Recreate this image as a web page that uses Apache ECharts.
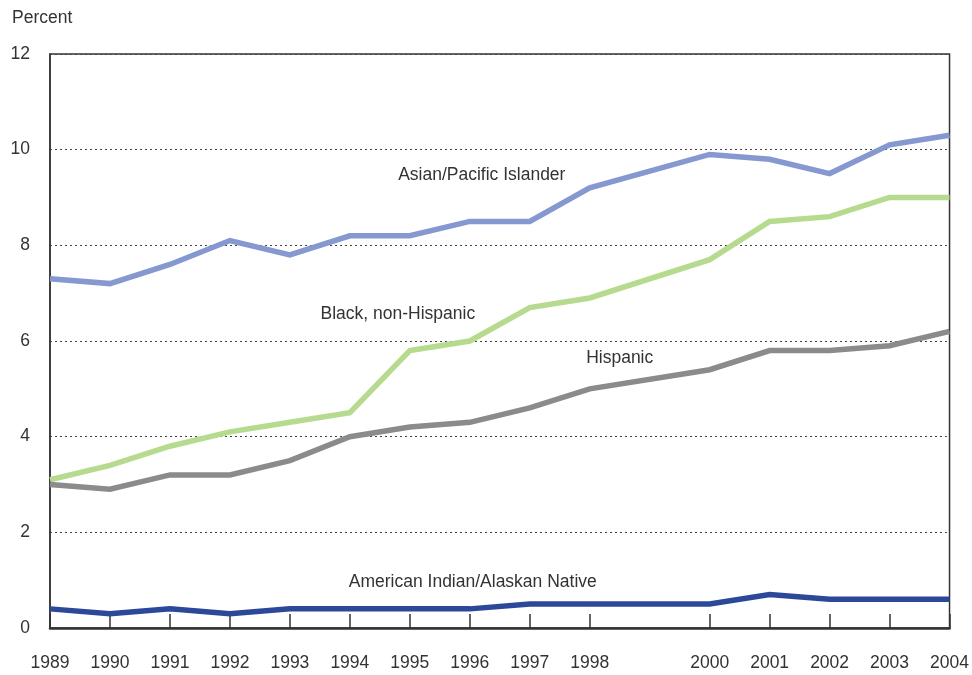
<!DOCTYPE html>
<html>
<head>
<meta charset="utf-8">
<script src="https://cdn.jsdelivr.net/npm/echarts@6/dist/echarts.min.js"></script>
<style>
  html, body { margin: 0; padding: 0; background: #fff; }
  #chart { width: 972px; height: 675px; }
</style>
</head>
<body>
<div id="chart"></div>
<script>
// years with data (no 1999 in the source)
const years = [1989, 1990, 1991, 1992, 1993, 1994, 1995, 1996, 1997, 1998, 2000, 2001, 2002, 2003, 2004];
const yTicks = [0, 2, 4, 6, 8, 10, 12];

const asianPacific = [7.3, 7.2, 7.6, 8.1, 7.8, 8.2, 8.2, 8.5, 8.5, 9.2, 9.9, 9.8, 9.5, 10.1, 10.3];
const blackNonHisp = [3.1, 3.4, 3.8, 4.1, 4.3, 4.5, 5.8, 6.0, 6.7, 6.9, 7.7, 8.5, 8.6, 9.0, 9.0];
const hispanic     = [3.0, 2.9, 3.2, 3.2, 3.5, 4.0, 4.2, 4.3, 4.6, 5.0, 5.4, 5.8, 5.8, 5.9, 6.2];
const amIndian     = [0.4, 0.3, 0.4, 0.3, 0.4, 0.4, 0.4, 0.4, 0.5, 0.5, 0.5, 0.7, 0.6, 0.6, 0.6];

// series label anchors in data units: [year, value]
const labelAt = {
  'Asian/Pacific Islander': [1996.2, 9.47],
  'Black, non-Hispanic': [1994.8, 6.56],
  'Hispanic': [1998.5, 5.64],
  'American Indian/Alaskan Native': [1996.05, 0.96]
};

const FONT = '"Liberation Sans Narrow", "Liberation Sans", Arial, sans-serif';
const FS = 17.5;
const chart = echarts.init(document.getElementById('chart'));

const makeSeries = (name, values, color) => ({
  name,
  type: 'line',
  data: years.map((y, i) => [y, values[i]]),
  symbol: 'none',
  lineStyle: { width: 5.5, color, join: 'miter' },
  itemStyle: { color },
  z: 3,
  markPoint: {
    symbol: 'circle',
    symbolSize: 0,
    silent: true,
    data: [{ coord: labelAt[name] }],
    label: {
      show: true,
      position: 'inside',
      formatter: name,
      color: '#333',
      fontFamily: FONT,
      fontSize: FS
    }
  }
});

chart.setOption({
  animation: false,
  grid: {
    left: 50, right: 21, top: 54, bottom: 47,
    show: true, borderColor: '#333', borderWidth: 1.5
  },
  graphic: [{
    type: 'text', left: 12, top: 9,
    style: { text: 'Percent', font: FS + 'px ' + FONT, fill: '#333' }
  }],
  xAxis: {
    type: 'value',
    min: 1989, max: 2004, interval: 1,
    axisLine: { show: true, lineStyle: { color: '#333', width: 2.5 } },
    axisTick: {
      show: true, inside: true, length: 14,
      customValues: years,
      lineStyle: { color: '#333', width: 1.5 }
    },
    axisLabel: {
      customValues: years,
      color: '#333', fontFamily: FONT, fontSize: FS, margin: 26,
      formatter: v => String(v)
    },
    splitLine: { show: false }
  },
  yAxis: {
    type: 'value',
    min: 0, max: 12, interval: 2,
    axisLine: { show: true, lineStyle: { color: '#333', width: 1.5 } },
    axisTick: { show: false },
    axisLabel: {
      color: '#333', fontFamily: FONT, fontSize: FS, margin: 20,
      formatter: v => (yTicks.includes(v) ? String(v) : '')
    },
    splitLine: {
      show: true,
      lineStyle: { color: '#444', width: 1, type: [2, 3] }
    }
  },
  series: [
    makeSeries('Asian/Pacific Islander', asianPacific, '#8598cf'),
    makeSeries('Black, non-Hispanic', blackNonHisp, '#b6da8e'),
    makeSeries('Hispanic', hispanic, '#8b8b8b'),
    makeSeries('American Indian/Alaskan Native', amIndian, '#2b4899')
  ]
});
</script>
</body>
</html>
